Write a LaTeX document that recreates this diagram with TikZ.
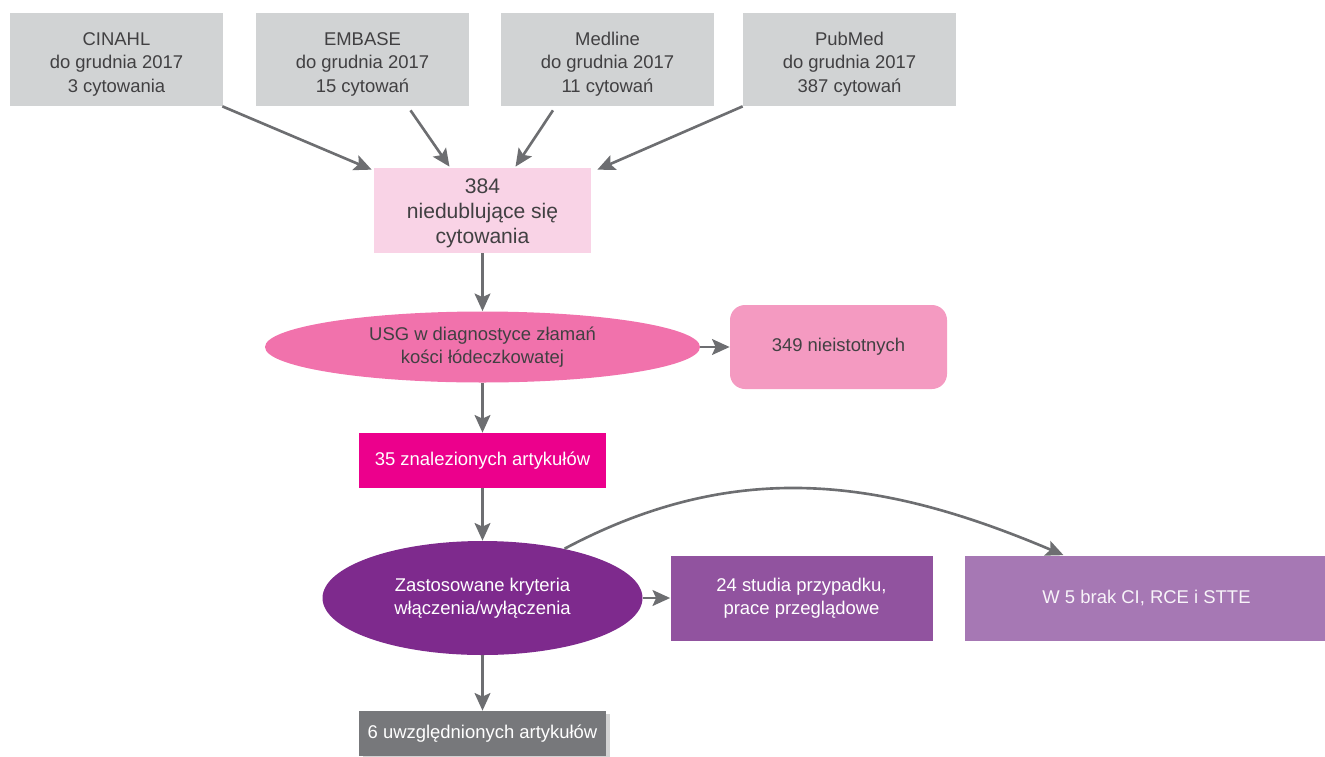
\documentclass[tikz,border=0pt]{standalone}
\usepackage{fontspec}
\setmainfont{Liberation Sans}
\usepackage{tikz}
\usetikzlibrary{shapes,shadows,arrows,arrows.meta,calc}
\definecolor{dbgray}{HTML}{D1D3D4}
\definecolor{linegray}{HTML}{6D6E71}
\definecolor{textdark}{HTML}{414042}
\definecolor{sumpink}{HTML}{F9D3E6}
\definecolor{usgpink}{HTML}{F172AC}
\definecolor{irrpink}{HTML}{F49AC1}
\definecolor{foundmag}{HTML}{EC008C}
\definecolor{critpurple}{HTML}{7E2A8D}
\definecolor{studpurple}{HTML}{91539F}
\definecolor{nodatapurple}{HTML}{A678B4}
\definecolor{inclgray}{HTML}{77787B}
\tikzstyle{line} = [draw, linegray, line width=1.5pt, -{Stealth[length=10pt, width=9pt, inset=2pt]}]
\tikzstyle{box} = [rectangle, inner sep=0pt, align=center, text centered, text=textdark, font=\fontsize{10.5}{13.3}\selectfont]
\tikzstyle{dbbox} = [box, fill=dbgray, minimum width=4.26cm, minimum height=1.86cm, text height=37pt, text depth=0pt]
\tikzstyle{oval} = [ellipse, inner sep=0pt, align=center, text centered, font=\fontsize{10.5}{13.3}\selectfont]

\begin{document}
\begin{tikzpicture}
	\useasboundingbox (-2.33,1.19) rectangle (24.17,-13.93);
	
	\node [dbbox] (cinahl) {CINAHL\\do grudnia 2017\\3 cytowania};
	\node [dbbox, right of = cinahl, node distance = 4.92cm] (embase) {EMBASE\\do grudnia 2017\\15 cytowań};
	\node [dbbox, right of = embase, node distance = 4.9cm] (medline) {Medline\\do grudnia 2017\\11 cytowań};
	\node [dbbox, right of = medline, node distance = 4.84cm] (pubmed) {PubMed\\do grudnia 2017\\387 cytowań};
	\node [box, below of = embase, node distance = 3.02cm, xshift = 2.4cm, fill=sumpink, minimum width=4.34cm, minimum height=1.7cm, font=\fontsize{12}{14.2}\selectfont, text height=38pt, text depth=0pt] (sum) {384\\niedublujące się\\cytowania};
	\node [oval, below of = sum, node distance = 2.73cm, fill=usgpink, text=textdark, minimum width=8.7cm, minimum height=1.42cm] (usg) {USG w diagnostyce złamań\\kości łódeczkowatej};
	\node [box, right of = usg, node distance = 7.12cm, fill=irrpink, rounded corners=0.3cm, minimum width=4.34cm, minimum height=1.68cm] (irrel) {349 nieistotnych};
	\node [box, below of = usg, node distance = 2.27cm, fill=foundmag, text=white, minimum width=4.94cm, minimum height=1.1cm] (found) {35 znalezionych artykułów};
	\node [oval, below of = found, node distance = 2.75cm, fill=critpurple, text=white, minimum width=6.4cm, minimum height=2.28cm] (crit) {Zastosowane kryteria\\włączenia/wyłączenia};
	\node [box, right of = crit, node distance = 6.38cm, fill=studpurple, text=white, minimum width=5.24cm, minimum height=1.7cm] (studies) {24 studia przypadku,\\prace przeglądowe};
	\node [box, right of = studies, node distance = 6.9cm, fill=nodatapurple, text=white!92!nodatapurple, minimum width=7.28cm, minimum height=1.7cm] (nodata) {W 5 brak CI, RCE i STTE};
	\node [box, below of = crit, node distance = 2.71cm, fill=inclgray, text=white, minimum width=4.94cm, minimum height=0.9cm, drop shadow={shadow xshift=0.08cm, shadow yshift=-0.05cm, opacity=0.35}] (incl) {6 uwzględnionych artykułów};
	
	\path [line] ([xshift=-0.02cm]cinahl.south east) -- ([xshift=-0.04cm, yshift=-0.04cm]sum.north west);
	\path [line] ([xshift=0.96cm, yshift=-0.08cm]embase.south) -- ([xshift=-0.66cm, yshift=0.02cm]sum.north);
	\path [line] ([xshift=-1.09cm, yshift=-0.08cm]medline.south) -- ([xshift=0.66cm, yshift=0.02cm]sum.north);
	\path [line] (pubmed.south west) -- ([xshift=0.12cm, yshift=-0.04cm]sum.north east);
	
	\path [line] (sum.south) -- (usg.north);
	\path [line] (usg.east) -- (irrel.west);
	\path [line] (usg.south) -- (found.north);
	\path [line] (found.south) -- (crit.north);
	\path [line] (crit.east) -- (studies.west);
	\path [line] (crit.31) to [out=28, in=157] ([xshift=-1.66cm]nodata.north);
	\path [line] (crit.south) -- (incl.north);
\end{tikzpicture}
\end{document}
